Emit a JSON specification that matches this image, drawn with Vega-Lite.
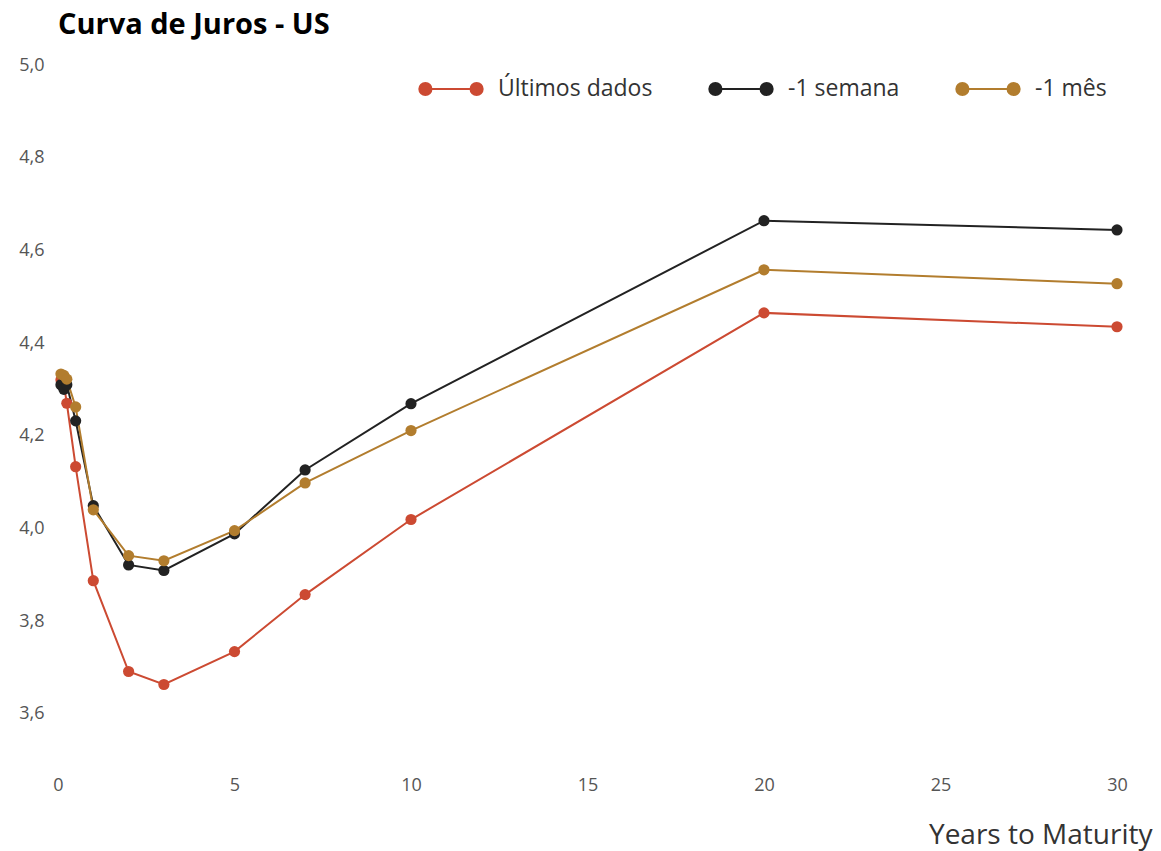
{
  "$schema": "https://vega.github.io/schema/vega-lite/v6.json",
  "autosize": "none",
  "width": 1059,
  "height": 695,
  "padding": {"left": 58, "top": 65, "right": 44, "bottom": 91},
  "background": "white",
  "title": {
    "text": "Curva de Juros - US",
    "anchor": "start",
    "frame": "group",
    "font": "Open Sans",
    "fontSize": 29,
    "fontWeight": "bold",
    "color": "#000000",
    "baseline": "bottom",
    "offset": 27,
    "dy": 40
  },
  "config": {
    "view": {"stroke": null},
    "font": "Open Sans"
  },
  "data": {
    "values": [
      {"serie": "Últimos dados", "anos": 0.0833, "taxa": 4.32},
      {"serie": "Últimos dados", "anos": 0.1667, "taxa": 4.31},
      {"serie": "Últimos dados", "anos": 0.25, "taxa": 4.27},
      {"serie": "Últimos dados", "anos": 0.5, "taxa": 4.133},
      {"serie": "Últimos dados", "anos": 1, "taxa": 3.887},
      {"serie": "Últimos dados", "anos": 2, "taxa": 3.691},
      {"serie": "Últimos dados", "anos": 3, "taxa": 3.663},
      {"serie": "Últimos dados", "anos": 5, "taxa": 3.734},
      {"serie": "Últimos dados", "anos": 7, "taxa": 3.857},
      {"serie": "Últimos dados", "anos": 10, "taxa": 4.019},
      {"serie": "Últimos dados", "anos": 20, "taxa": 4.465},
      {"serie": "Últimos dados", "anos": 30, "taxa": 4.435},
      {"serie": "-1 semana", "anos": 0.0833, "taxa": 4.31},
      {"serie": "-1 semana", "anos": 0.1667, "taxa": 4.30},
      {"serie": "-1 semana", "anos": 0.25, "taxa": 4.31},
      {"serie": "-1 semana", "anos": 0.5, "taxa": 4.232},
      {"serie": "-1 semana", "anos": 1, "taxa": 4.049},
      {"serie": "-1 semana", "anos": 2, "taxa": 3.921},
      {"serie": "-1 semana", "anos": 3, "taxa": 3.909},
      {"serie": "-1 semana", "anos": 5, "taxa": 3.988},
      {"serie": "-1 semana", "anos": 7, "taxa": 4.126},
      {"serie": "-1 semana", "anos": 10, "taxa": 4.269},
      {"serie": "-1 semana", "anos": 20, "taxa": 4.664},
      {"serie": "-1 semana", "anos": 30, "taxa": 4.644},
      {"serie": "-1 mês", "anos": 0.0833, "taxa": 4.333},
      {"serie": "-1 mês", "anos": 0.1667, "taxa": 4.33},
      {"serie": "-1 mês", "anos": 0.25, "taxa": 4.322},
      {"serie": "-1 mês", "anos": 0.5, "taxa": 4.262},
      {"serie": "-1 mês", "anos": 1, "taxa": 4.04},
      {"serie": "-1 mês", "anos": 2, "taxa": 3.941},
      {"serie": "-1 mês", "anos": 3, "taxa": 3.93},
      {"serie": "-1 mês", "anos": 5, "taxa": 3.995},
      {"serie": "-1 mês", "anos": 7, "taxa": 4.098},
      {"serie": "-1 mês", "anos": 10, "taxa": 4.211},
      {"serie": "-1 mês", "anos": 20, "taxa": 4.558},
      {"serie": "-1 mês", "anos": 30, "taxa": 4.528}
    ]
  },
  "encoding": {
    "x": {
      "field": "anos",
      "type": "quantitative",
      "scale": {"domain": [0, 30], "nice": false},
      "axis": {
        "title": "Years to Maturity",
        "values": [0, 5, 10, 15, 20, 25, 30],
        "domain": false,
        "ticks": false,
        "grid": false,
        "labelFont": "Open Sans",
        "labelFontSize": 18,
        "labelColor": "#555555",
        "labelPadding": 16,
        "labelFlush": false,
        "titleFont": "Open Sans",
        "titleFontSize": 28,
        "titleFontWeight": "normal",
        "titleColor": "#333333",
        "titleAnchor": "end",
        "titleAlign": "right",
        "titleBaseline": "alphabetic",
        "titleX": 1094,
        "titleY": 83
      }
    },
    "y": {
      "field": "taxa",
      "type": "quantitative",
      "scale": {"domain": [3.5, 5.0], "nice": false, "zero": false},
      "axis": {
        "title": null,
        "values": [3.6, 3.8, 4.0, 4.2, 4.4, 4.6, 4.8, 5.0],
        "labelExpr": "replace(format(datum.value, '.1f'), '.', ',')",
        "domain": false,
        "ticks": false,
        "grid": false,
        "labelFont": "Open Sans",
        "labelFontSize": 18,
        "labelColor": "#555555",
        "labelPadding": 14
      }
    },
    "color": {
      "field": "serie",
      "type": "nominal",
      "scale": {
        "domain": ["Últimos dados", "-1 semana", "-1 mês"],
        "range": ["#CC4A32", "#222222", "#B27D2E"]
      },
      "legend": {
        "title": null,
        "orient": "none",
        "direction": "horizontal",
        "legendX": 360,
        "legendY": -9,
        "symbolType": "M-0.8,0 L0.8,0 M-0.99,0 A0.19,0.19 0 1,0 -0.61,0 A0.19,0.19 0 1,0 -0.99,0 M0.61,0 A0.19,0.19 0 1,0 0.99,0 A0.19,0.19 0 1,0 0.61,0",
        "symbolSize": 4096,
        "symbolStrokeWidth": 2,
        "symbolOpacity": 1,
        "labelFont": "Open Sans",
        "labelFontSize": 23,
        "labelColor": "#333333",
        "labelOffset": 14,
        "columnPadding": 52,
        "labelLimit": 300
      }
    }
  },
  "layer": [
    {
      "mark": {"type": "line", "strokeWidth": 2},
      "encoding": {"order": {"field": "anos", "type": "quantitative"}}
    },
    {
      "mark": {"type": "point", "filled": true, "size": 125, "opacity": 1},
      "encoding": {"fill": {"field": "serie", "type": "nominal", "legend": null, "scale": {"domain": ["Últimos dados", "-1 semana", "-1 mês"], "range": ["#CC4A32", "#222222", "#B27D2E"]}}}
    }
  ]
}
